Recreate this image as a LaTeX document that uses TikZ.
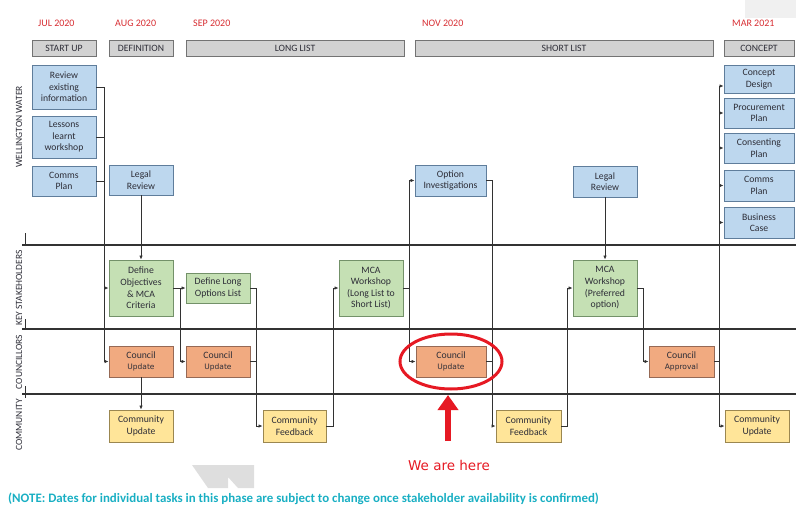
\documentclass[tikz,border=0pt]{standalone}
\usepackage{fontspec}
\setmainfont{Carlito}
\newfontfamily\dvfont{DejaVu Sans}
\usetikzlibrary{arrows.meta,calc}
\definecolor{bluef}{RGB}{189,215,238}
\definecolor{blued}{RGB}{95,125,155}
\definecolor{greenf}{RGB}{197,224,180}
\definecolor{greend}{RGB}{115,145,105}
\definecolor{orangef}{RGB}{241,170,128}
\definecolor{oranged}{RGB}{150,105,85}
\definecolor{yellowf}{RGB}{255,229,153}
\definecolor{yellowd}{RGB}{155,135,80}
\definecolor{grayf}{RGB}{210,210,210}
\definecolor{grayd}{RGB}{115,115,115}
\definecolor{txtc}{RGB}{45,45,55}
\definecolor{datec}{RGB}{215,45,50}
\definecolor{redc}{RGB}{230,25,35}
\definecolor{notec}{RGB}{25,175,195}
\definecolor{connc}{RGB}{50,50,50}
\definecolor{wmc}{RGB}{222,222,222}
\definecolor{topc}{RGB}{240,240,240}
\newcommand{\smallupd}[1]{{\dvfont\fontsize{7.5}{9}\selectfont #1}}
\begin{document}
\begin{tikzpicture}[x=1pt,y=-1pt,
  box/.style={draw, line width=0.9pt, inner sep=1pt, align=center, text=txtc,
    font=\fontsize{9.7}{11.6}\selectfont},
  bluebox/.style={box, fill=bluef, draw=blued},
  greenbox/.style={box, fill=greenf, draw=greend},
  orangebox/.style={box, fill=orangef, draw=oranged},
  yellowbox/.style={box, fill=yellowf, draw=yellowd},
  phase/.style={draw=grayd, fill=grayf, line width=1pt, minimum height=16pt,
    inner sep=0pt, text=txtc, font=\fontsize{9.7}{10}\selectfont},
  conn/.style={draw=connc, line width=0.7pt},
  tip/.style={-{Latex[length=4pt,width=3.4pt]}},
  datelbl/.style={text=datec, anchor=west, inner sep=0pt, font=\fontsize{10}{10}\selectfont},
  lanelbl/.style={rotate=90, text=txtc, inner sep=0pt, font=\fontsize{9.5}{10}\selectfont},
  laneline/.style={draw=connc, line width=1.4pt}
]
\useasboundingbox (0,0) rectangle (796,509);
\fill[topc] (745,0) rectangle (796,18);

% dates
\node[datelbl] (d1) at (38,23) {JUL 2020};
\node[datelbl] (d2) at (115,23) {AUG 2020};
\node[datelbl] (d3) at (193,23) {SEP 2020};
\node[datelbl] (d4) at (422,23) {NOV 2020};
\node[datelbl] (d5) at (732,23) {MAR 2021};

% phases
\node[phase, minimum width=64pt] (su) at (64,48) {START UP};
\node[phase, minimum width=64pt] (df) at (141,48) {DEFINITION};
\node[phase, minimum width=218pt] (ll) at (295,48) {LONG LIST};
\node[phase, minimum width=298pt] (sl) at (564,48) {SHORT LIST};
\node[phase, minimum width=70pt] (cn) at (759,48) {CONCEPT};

% lane separators
\draw[laneline] (22,245) -- (796,245);
\draw[laneline] (22,329) -- (796,329);
\draw[laneline] (22,394) -- (796,394);
\draw[connc, line width=1pt] (25,233) -- (25,246);
\draw[connc, line width=1pt] (25,319) -- (25,330);
\draw[connc, line width=1pt] (25,386) -- (25,398);

% lane labels
\node[lanelbl] (lw) at (19,127) {WELLINGTON WATER};
\node[lanelbl] (lk) at (19,288) {KEY STAKEHOLDERS};
\node[lanelbl] (lc) at (19,362) {COUNCILLORS};
\node[lanelbl] (lm) at (19,425) {COMMUNITY};

% blue boxes
\node[bluebox, minimum width=64pt, minimum height=44pt] (rev) at (64,87) {Review\\existing\\information};
\node[bluebox, minimum width=64pt, minimum height=42pt] (les) at (64,137) {Lessons\\learnt\\workshop};
\node[bluebox, minimum width=64pt, minimum height=30pt] (cm1) at (64,181) {Comms\\Plan};
\node[bluebox, minimum width=64pt, minimum height=30pt] (lg1) at (141,180) {Legal\\Review};
\node[bluebox, minimum width=71pt, minimum height=31pt] (opt) at (450.5,180.5) {Option\\Investigations};
\node[bluebox, minimum width=64pt, minimum height=31pt] (lg2) at (605,181.5) {Legal\\Review};
\node[bluebox, minimum width=70pt, minimum height=28pt] (cd) at (759,79) {Concept\\Design};
\node[bluebox, minimum width=70pt, minimum height=30pt] (pp) at (759,113) {Procurement\\Plan};
\node[bluebox, minimum width=70pt, minimum height=30pt] (cp) at (759,148) {Consenting\\Plan};
\node[bluebox, minimum width=70pt, minimum height=31pt] (cm2) at (759,185.5) {Comms\\Plan};
\node[bluebox, minimum width=70pt, minimum height=31pt] (bc) at (759,222.5) {Business\\Case};

% green boxes
\node[greenbox, minimum width=64pt, minimum height=56pt] (dob) at (141,288) {Define\\Objectives\\\& MCA\\Criteria};
\node[greenbox, minimum width=64pt, minimum height=30pt] (dlo) at (218,288) {Define Long\\Options List};
\node[greenbox, minimum width=64pt, minimum height=56pt] (mc1) at (371,288) {MCA\\Workshop\\(Long List to\\Short List)};
\node[greenbox, minimum width=64pt, minimum height=56pt] (mc2) at (605,288) {MCA\\Workshop\\(Preferred\\option)};

% orange boxes
\node[orangebox, minimum width=64pt, minimum height=31pt] (cu1) at (141,361.5) {Council\\\smallupd{Update}};
\node[orangebox, minimum width=64pt, minimum height=31pt] (cu2) at (218,361.5) {Council\\\smallupd{Update}};
\node[orangebox, minimum width=70pt, minimum height=31pt] (cu3) at (451,361.5) {Council\\\smallupd{Update}};
\node[orangebox, minimum width=65pt, minimum height=31pt] (ca) at (681.5,361.5) {Council\\\smallupd{Approval}};

% yellow boxes
\node[yellowbox, minimum width=64pt, minimum height=32pt] (cy1) at (141,426) {Community\\Update};
\node[yellowbox, minimum width=63pt, minimum height=32pt] (cf1) at (294.5,426) {Community\\Feedback};
\node[yellowbox, minimum width=65pt, minimum height=32pt] (cf2) at (528.5,426) {Community\\Feedback};
\node[yellowbox, minimum width=64pt, minimum height=32pt] (cy2) at (757,426) {Community\\Update};

% trunk x positions
\coordinate (xA) at (104,0);
\coordinate (xB) at (180,0);
\coordinate (xC) at (256,0);
\coordinate (xD) at (333,0);
\coordinate (xE) at (409,0);
\coordinate (xF) at (492,0);
\coordinate (xG) at (567,0);
\coordinate (xH) at (643,0);
\coordinate (xI) at (719,0);
\coordinate (cdin) at (719,86);

% connectors
\draw[conn, tip] (rev.east) -- (xA |- rev.east) |- (cu1.west);
\draw[conn] (les.east) -- (xA |- les.east);
\draw[conn] (cm1.east) -- (xA |- cm1.east);
\draw[conn, tip] (xA |- dob.west) -- (dob.west);
\draw[conn, tip] (lg1.south) -- (dob.north);
\draw[conn, tip] (dob.east) -- (dlo.west);
\draw[conn, tip] (xB |- dob.east) |- (cu2.west);
\draw[conn, tip] (cu1.south) -- (cy1.north);
\draw[conn, tip] (dlo.east) -- (xC |- dlo.east) |- (cf1.west);
\draw[conn] (cu2.east) -- (xC |- cu2.east);
\draw[conn, tip] (cf1.east) -- (xD |- cf1.east) |- (mc1.west);
\draw[conn] (mc1.east) -- (xE |- mc1.east);
\draw[conn, tip] (xE |- mc1.east) |- (opt.west);
\draw[conn, tip] (xE |- mc1.east) |- (cu3.west);
\draw[conn, tip] (opt.east) -- (xF |- opt.east) |- (cf2.west);
\draw[conn] (cu3.east) -- (xF |- cu3.east);
\draw[conn, tip] (cf2.east) -- (xG |- cf2.east) |- (mc2.west);
\draw[conn, tip] (lg2.south) -- (mc2.north);
\draw[conn, tip] (mc2.east) -- (xH |- mc2.east) |- (ca.west);
\draw[conn] (ca.east) -- (xI |- ca.east);
\draw[conn, tip] (cdin) |- (cy2.west);
\draw[conn, tip] (cdin) -- (cdin -| cd.west);
\draw[conn, tip] (xI |- pp.west) -- (pp.west);
\draw[conn, tip] (xI |- cp.west) -- (cp.west);
\draw[conn, tip] (xI |- cm2.west) -- (cm2.west);
\draw[conn, tip] (xI |- bc.west) -- (bc.west);

% highlight
\draw[redc, line width=3pt] (cu3.center) ellipse [x radius=51pt, y radius=27.5pt];
\coordinate (arrb) at (448,441);
\coordinate (arrt) at (448,395);
\draw[redc, line width=6pt, -{Triangle[width=20pt,length=15pt]}] (arrb) -- (arrt);
\node[text=redc, inner sep=0pt, font=\dvfont\fontsize{13.5}{15}\selectfont] (here) at (449,465) {We are here};

% watermark fragment
\fill[wmc] (192,465) -- (254,465) -- (254,488) -- (238,488) -- (228,477) -- (228,488) -- (208,488) -- cycle;

% note
\node[anchor=west, text=notec, inner sep=0pt, font=\bfseries\fontsize{12.9}{14}\selectfont] (note) at (8,499) {(NOTE: Dates for individual tasks in this phase are subject to change once stakeholder availability is confirmed)};
\end{tikzpicture}
\end{document}
